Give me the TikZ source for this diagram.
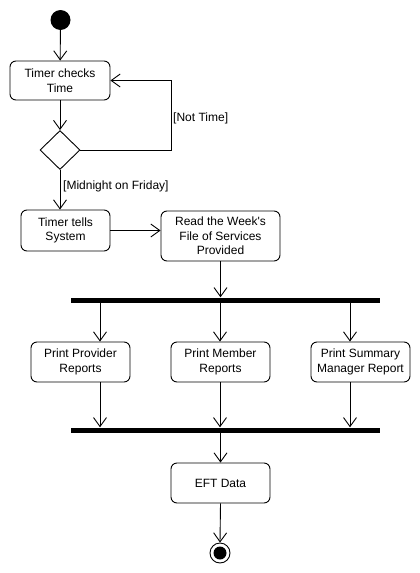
\documentclass[tikz,border=0pt]{standalone}
\usepackage{fontspec}
\setmainfont{Liberation Sans}
\usetikzlibrary{arrows.meta,shapes.geometric}
\tikzset{
  act/.style={draw, line width=0.9pt, rounded corners=6pt, align=center, inner sep=0pt,
    font=\fontsize{12}{14.5}\selectfont},
  arr/.style={draw, line width=0.9pt, -{Straight Barb[length=9pt,width=13pt,line width=0.9pt]}},
  bar/.style={fill=black, inner sep=0pt, minimum width=309pt, minimum height=5pt},
  lbl/.style={font=\fontsize{12}{14.5}\selectfont, inner sep=0pt, anchor=west}
}
\begin{document}
\begin{tikzpicture}[x=1pt,y=-1pt]
\useasboundingbox (0,0) rectangle (420,573);
\node[circle, fill=black, minimum size=20pt, inner sep=0pt] (start) at (60.5,20) {};
\node[act, minimum width=100pt, minimum height=39pt] (tc) at (60,80.5) {Timer checks\\Time};
\node[diamond, draw, line width=0.9pt, minimum width=40pt, minimum height=39pt, inner sep=0pt] (dec) at (60,150) {};
\node[act, minimum width=89pt, minimum height=41pt] (tts) at (65.5,230.5) {Timer tells\\System};
\node[act, minimum width=119pt, minimum height=50pt] (read) at (220.5,236) {Read the Week\textquotesingle s\\File of Services\\Provided};
\node[bar] (fork) at (225.5,300) {};
\node[act, minimum width=99pt, minimum height=40pt] (pp) at (80.5,362) {Print Provider\\Reports};
\node[act, minimum width=99pt, minimum height=40pt] (pm) at (220.5,362) {Print Member\\Reports};
\node[act, minimum width=99pt, minimum height=40pt] (ps) at (360.5,362) {Print Summary\\Manager Report};
\node[bar] (join) at (225.5,430) {};
\node[act, minimum width=99pt, minimum height=40pt] (eft) at (220.5,483) {EFT Data};
\node[circle, draw, line width=0.9pt, minimum size=20pt, inner sep=0pt] (end) at (220,553) {};
\fill (end.center) circle (6.5pt);

\coordinate (loop) at (171,80.5);
\coordinate (c1) at (100,0);
\coordinate (c2) at (220,0);
\coordinate (c3) at (350,0);

\draw[arr] (start) -- (tc);
\draw[arr] (tc) -- (dec);
\draw[arr] (dec.east) -| (loop) -- (tc.east);
\node[lbl] (nt) at (173,118.5) {[Not Time]};
\draw[arr] (dec.south) -- (dec.south |- tts.north);
\node[lbl] (mf) at (63,186) {[Midnight on Friday]};
\draw[arr] (tts.east) -- (tts.east -| read.west);
\draw[arr] (read.south) -- (read.south |- fork.north);
\draw[arr] (fork.south -| c1) -- (pp.north -| c1);
\draw[arr] (fork.south -| c2) -- (pm.north -| c2);
\draw[arr] (fork.south -| c3) -- (ps.north -| c3);
\draw[arr] (pp.south -| c1) -- (join.north -| c1);
\draw[arr] (pm.south -| c2) -- (join.north -| c2);
\draw[arr] (ps.south -| c3) -- (join.north -| c3);
\draw[arr] (join.south -| eft.north) -- (eft.north);
\draw[arr] (eft.south) -- (end.north);
\end{tikzpicture}
\end{document}
